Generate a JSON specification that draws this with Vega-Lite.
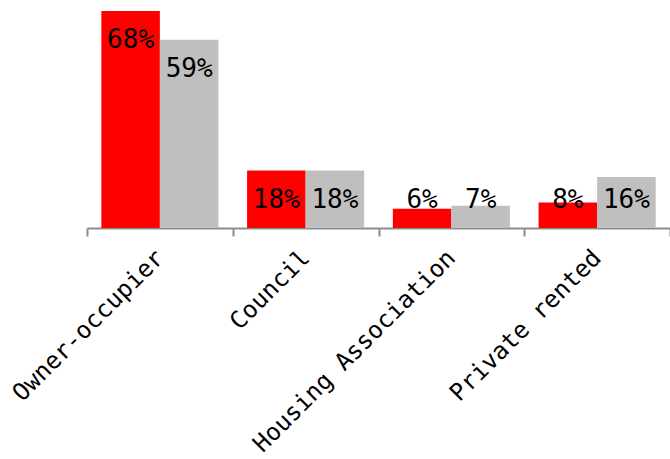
{
  "$schema": "https://vega.github.io/schema/vega-lite/v6.json",
  "autosize": {"type": "none"},
  "width": 583,
  "height": 217,
  "padding": {"left": 87, "top": 11, "right": 0, "bottom": 231},
  "config": {"view": {"stroke": null}, "font": "DejaVu Sans Mono"},
  "data": {
    "values": [
      {"tenure": "Owner-occupier", "series": "Series 1", "value": 0.68},
      {"tenure": "Owner-occupier", "series": "Series 2", "value": 0.59},
      {"tenure": "Council", "series": "Series 1", "value": 0.18},
      {"tenure": "Council", "series": "Series 2", "value": 0.18},
      {"tenure": "Housing Association", "series": "Series 1", "value": 0.06},
      {"tenure": "Housing Association", "series": "Series 2", "value": 0.07},
      {"tenure": "Private rented", "series": "Series 1", "value": 0.08},
      {"tenure": "Private rented", "series": "Series 2", "value": 0.16}
    ]
  },
  "transform": [
    {"calculate": "max(datum.value - 0.092, 0.088)", "as": "labelY"}
  ],
  "encoding": {
    "x": {
      "field": "tenure", "type": "nominal", "sort": null,
      "scale": {"paddingInner": 0, "paddingOuter": 0},
      "axis": {
        "title": null, "labelAngle": -45, "labelAlign": "right", "labelBaseline": "middle",
        "labelFontSize": 24, "labelFont": "DejaVu Sans Mono", "labelColor": "#000000", "labelLimit": 0,
        "tickBand": "extent", "tickSize": 8, "tickColor": "#8c8c8c", "tickWidth": 2,
        "domainColor": "#8c8c8c", "domainWidth": 2, "labelPadding": 18
      }
    },
    "xOffset": {"field": "series", "type": "nominal", "scale": {"paddingInner": 0, "paddingOuter": 0.245}}
  },
  "layer": [
    {
      "mark": {"type": "bar"},
      "encoding": {
        "y": {"field": "value", "type": "quantitative", "scale": {"domain": [0, 0.68], "nice": false}, "axis": null},
        "color": {"field": "series", "type": "nominal", "scale": {"range": ["#ff0000", "#bfbfbf"]}, "legend": null}
      }
    },
    {
      "mark": {"type": "text", "fontSize": 26, "font": "DejaVu Sans Mono", "color": "#000000", "baseline": "middle"},
      "encoding": {
        "y": {"field": "labelY", "type": "quantitative", "scale": {"domain": [0, 0.68], "nice": false}},
        "text": {"field": "value", "type": "quantitative", "format": ".0%"}
      }
    }
  ]
}
